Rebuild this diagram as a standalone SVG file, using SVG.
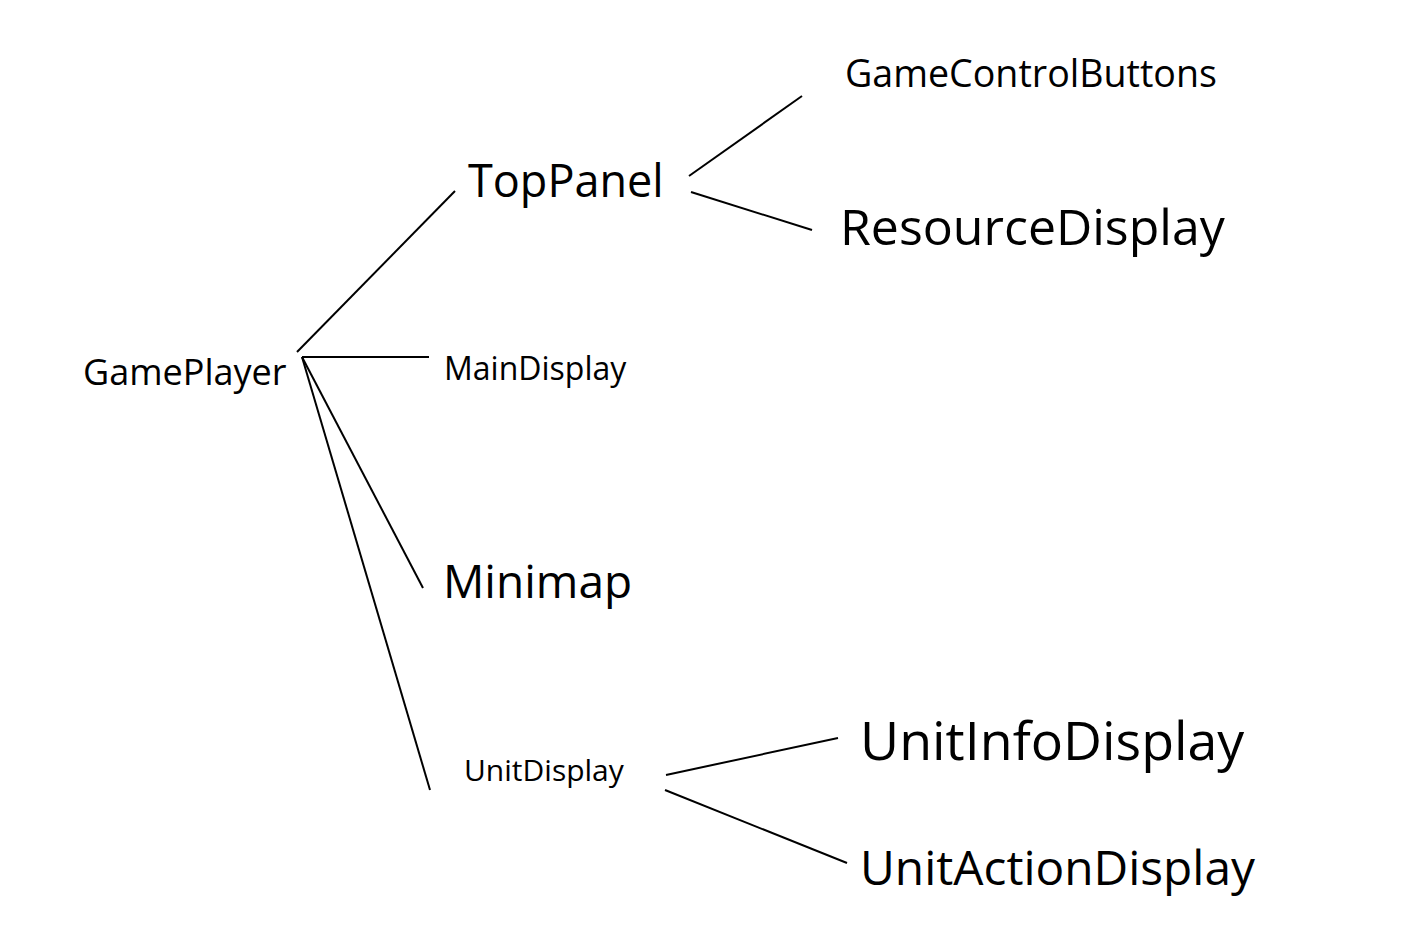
<svg xmlns="http://www.w3.org/2000/svg" width="1403" height="937" viewBox="0 0 1403 937">
<style>
text{font-family:"Open Sans","Noto Sans",sans-serif;fill:#000}
.c line{stroke:#000;stroke-width:2;fill:none}
</style>
<rect width="1403" height="937" fill="#fff"/>
<g class="c" id="connectors">
<line x1="297" y1="352" x2="455" y2="191"/>
<line x1="302" y1="357" x2="429" y2="357"/>
<line x1="302" y1="357" x2="423" y2="588"/>
<line x1="302" y1="357" x2="430" y2="790"/>
<line x1="689" y1="176" x2="802" y2="96"/>
<line x1="691" y1="192" x2="812" y2="230"/>
<line x1="666" y1="775" x2="838" y2="738"/>
<line x1="665" y1="790" x2="847" y2="863"/>
</g>
<g id="GamePlayer"><text x="83" y="385" font-size="36">GamePlayer</text></g>
<g id="TopPanel"><text x="468" y="197" font-size="45">TopPanel</text></g>
<g id="GameControlButtons"><text x="845" y="87" font-size="37.6">GameControlButtons</text></g>
<g id="ResourceDisplay"><text x="840" y="245" font-size="50">ResourceDisplay</text></g>
<g id="MainDisplay"><text x="444" y="380" font-size="32">MainDisplay</text></g>
<g id="Minimap"><text x="443" y="598" font-size="46">Minimap</text></g>
<g id="UnitDisplay"><text x="464" y="781" font-size="30">UnitDisplay</text></g>
<g id="UnitInfoDisplay"><text x="860" y="760" font-size="53.7">UnitInfoDisplay</text></g>
<g id="UnitActionDisplay"><text x="860" y="885" font-size="47.8">UnitActionDisplay</text></g>
</svg>
